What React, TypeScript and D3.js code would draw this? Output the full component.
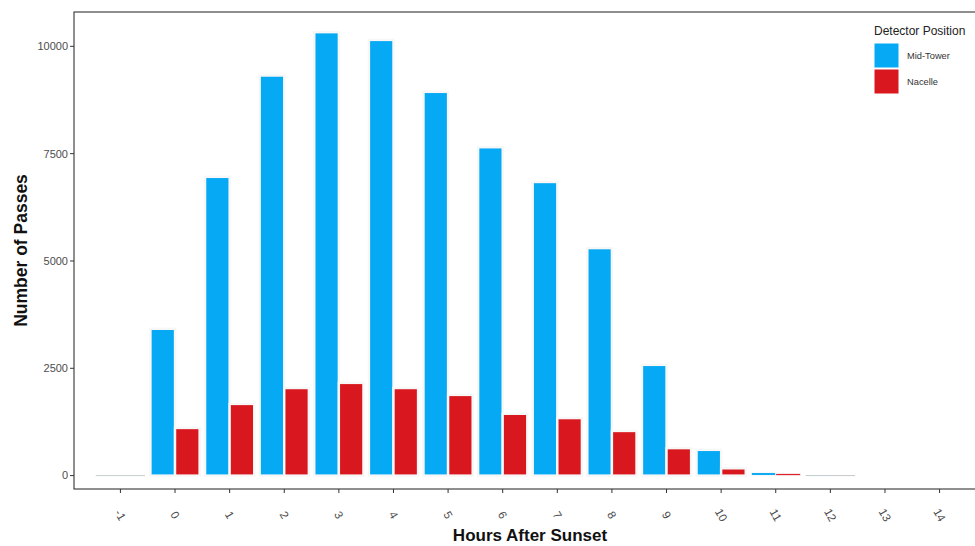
import React from "react";
import * as d3 from "d3";

const hours = [-1, 0, 1, 2, 3, 4, 5, 6, 7, 8, 9, 10, 11, 12, 13, 14];
const midTower = [5, 3420, 6960, 9320, 10330, 10150, 8940, 7650, 6840, 5300, 2580, 600, 75, 12, 0, 0];
const nacelle = [4, 1110, 1670, 2040, 2160, 2040, 1880, 1440, 1340, 1040, 640, 170, 45, 8, 0, 0];
const yTicks = [0, 2500, 5000, 7500, 10000];
const seriesNames = ["Mid-Tower", "Nacelle"];
const seriesColors = ["#06a9f4", "#d9171f"];

const W = 975;
const H = 546;
const panel = { left: 74, right: 986, top: 12, bottom: 489 };

export default function App() {
  const x = d3.scaleLinear().domain([-1.85, 14.85]).range([panel.left, panel.right]);
  const y = d3.scaleLinear().domain([-312, 10800]).range([panel.bottom, panel.top]);
  const unit = x(1) - x(0);
  const barW = 0.45 * unit;
  const series = [midTower, nacelle];
  const font = "'Liberation Sans', Arial, Helvetica, sans-serif";

  return (
    <svg
      width={W}
      height={H}
      viewBox={`0 0 ${W} ${H}`}
      style={{ position: "absolute", left: 0, top: 0, display: "block", background: "#fff" }}
      fontFamily={font}
    >
      <rect x={0} y={0} width={W} height={H} fill="#fff" />
      {/* bars */}
      {series.map((vals, si) =>
        vals.map((v, i) => {
          const cx = x(hours[i]);
          const x0 = si === 0 ? cx - barW : cx;
          const yTop = y(v);
          const y0 = y(0);
          const h = Math.abs(y0 - yTop);
          return (
            <rect
              key={`${si}-${i}`}
              x={x0}
              y={Math.min(yTop, y0)}
              width={barW}
              height={h}
              fill={seriesColors[si]}
              stroke="#f7f7f7"
              strokeWidth={Math.min(2.4, h * 0.4)}
            />
          );
        })
      )}
      {/* near-zero baseline traces */}
      {series.map((vals, si) =>
        vals.map((v, i) =>
          v > 0 && v < 30 ? (
            <line
              key={`z-${si}-${i}`}
              x1={x(hours[i]) - (si === 0 ? barW : 0)}
              x2={x(hours[i]) + (si === 0 ? 0 : barW)}
              y1={y(0)}
              y2={y(0)}
              stroke="#c8cfcf"
              strokeWidth={1}
            />
          ) : null
        )
      )}
      {/* panel border */}
      <rect
        x={panel.left}
        y={panel.top}
        width={panel.right - panel.left}
        height={panel.bottom - panel.top}
        fill="none"
        stroke="#333"
        strokeWidth={1.1}
      />
      {/* y axis */}
      {yTicks.map((t) => (
        <g key={t} transform={`translate(0,${y(t)})`}>
          <line x1={panel.left - 4} x2={panel.left} stroke="#333" strokeWidth={1} />
          <text x={panel.left - 6} dy="0.35em" textAnchor="end" fontSize={11} fill="#4d4d4d">
            {t}
          </text>
        </g>
      ))}
      {/* x axis */}
      {hours.map((h) => (
        <g key={h} transform={`translate(${x(h)},0)`}>
          <line y1={panel.bottom} y2={panel.bottom + 4} stroke="#333" strokeWidth={1} />
          <text
            transform={`translate(0,${panel.bottom + 26}) rotate(60)`}
            textAnchor="middle"
            dy="0.35em"
            fontSize={11.5}
            fill="#4d4d4d"
          >
            {h}
          </text>
        </g>
      ))}
      {/* axis titles */}
      <text
        x={(panel.left + panel.right) / 2}
        y={541}
        textAnchor="middle"
        fontSize={17}
        fontWeight="bold"
        fill="#111"
      >
        Hours After Sunset
      </text>
      <text
        transform={`translate(27,${(panel.top + panel.bottom) / 2}) rotate(-90)`}
        textAnchor="middle"
        fontSize={17.5}
        fontWeight="bold"
        fill="#111"
      >
        Number of Passes
      </text>
      {/* legend */}
      <text x={874} y={35} fontSize={12} fill="#222">
        Detector Position
      </text>
      {seriesNames.map((name, i) => (
        <g key={name} transform={`translate(874,${43 + i * 26})`}>
          <rect x={0} y={0} width={25} height={25} fill={seriesColors[i]} stroke="#fff" strokeWidth={1} />
          <text x={33} y={12.5} dy="0.35em" fontSize={9.3} fill="#333">
            {name}
          </text>
        </g>
      ))}
    </svg>
  );
}
